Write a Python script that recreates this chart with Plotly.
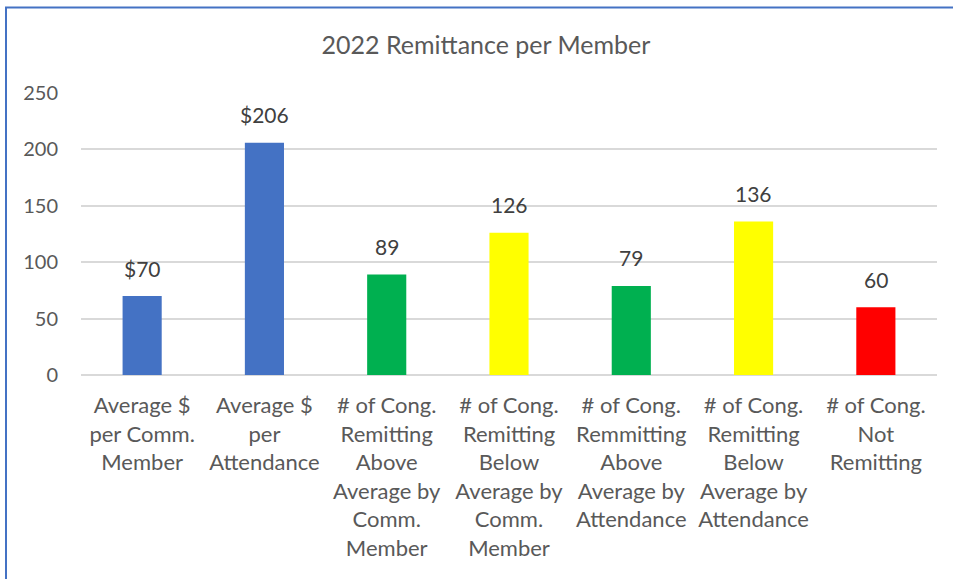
import plotly.graph_objects as go

categories = [
    "Average $<br>per Comm.<br>Member",
    "Average $<br>per<br>Attendance",
    "# of Cong.<br>Remitting<br>Above<br>Average by<br>Comm.<br>Member",
    "# of Cong.<br>Remitting<br>Below<br>Average by<br>Comm.<br>Member",
    "# of Cong.<br>Remmitting<br>Above<br>Average by<br>Attendance",
    "# of Cong.<br>Remitting<br>Below<br>Average by<br>Attendance",
    "# of Cong.<br>Not<br>Remitting",
]
values = [70, 206, 89, 126, 79, 136, 60]
labels = ["$70", "$206", "89", "126", "79", "136", "60"]
colors = ["#4472C4", "#4472C4", "#00B050", "#FFFF00", "#00B050", "#FFFF00", "#FF0000"]

FONT = "Lato, Calibri, Carlito, sans-serif"

fig = go.Figure(go.Bar(
    x=categories,
    y=values,
    marker=dict(color=colors, line=dict(width=0)),
    width=0.32,
    hoverinfo="x+y",
))

# data labels, placed above each bar
for cat, val, lab in zip(categories, values, labels):
    fig.add_annotation(x=cat, y=val, text=lab, showarrow=False,
                       yanchor="middle", yshift=28,
                       font=dict(size=21, color="#404040", family=FONT))

fig.update_layout(
    width=953, height=579,
    margin=dict(l=81, r=16, t=93, b=204),
    paper_bgcolor="white",
    plot_bgcolor="white",
    showlegend=False,
    font=dict(family=FONT, size=19, color="#595959"),
    title=dict(text="2022 Remittance per Member", x=486 / 953, xanchor="center",
               y=1 - 45 / 579, yanchor="middle",
               font=dict(size=25, color="#595959", family=FONT)),
    xaxis=dict(showgrid=False, showline=False, ticks="", tickangle=0,
               ticklabelstandoff=15,
               tickfont=dict(size=22, color="#595959")),
    yaxis=dict(range=[0, 250], dtick=50, showgrid=True, gridcolor="#D9D9D9",
               gridwidth=1.5, zeroline=True, zerolinecolor="#D9D9D9",
               zerolinewidth=1.5, showline=False, ticks="",
               ticklabelstandoff=22,
               tickfont=dict(size=20, color="#595959")),
)

# chart border (Excel-style frame)
pw, ph = 953 - 81 - 16, 579 - 93 - 204
fig.add_shape(type="rect", xref="paper", yref="paper",
              x0=(6 - 81) / pw, x1=(970 - 81) / pw,
              y0=-(600 - 375) / ph, y1=1 + (93 - 7.5) / ph,
              line=dict(color="#4472C4", width=2), layer="below")

fig.write_html("out.html", config={"displayModeBar": False},
               post_script="document.body.style.margin='0';"
                           "document.body.style.overflow='hidden';")
